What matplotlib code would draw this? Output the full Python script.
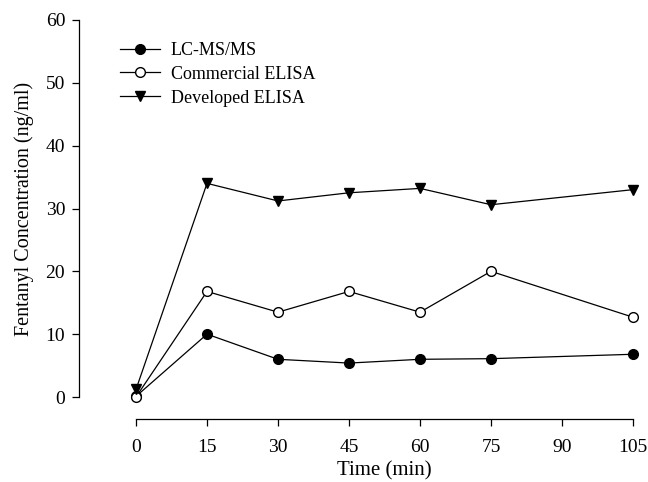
import matplotlib
matplotlib.use('Agg')
import matplotlib.pyplot as plt

plt.rcParams['font.family'] = ['Liberation Serif', 'DejaVu Serif']

time_min = [0, 15, 30, 45, 60, 75, 105]
lcms = [0.1, 10.0, 6.0, 5.4, 6.0, 6.1, 6.8]
commercial = [0.0, 16.8, 13.5, 16.8, 13.5, 20.0, 12.7]
developed = [1.2, 34.0, 31.2, 32.5, 33.2, 30.6, 33.0]

x_ticks = [0, 15, 30, 45, 60, 75, 90, 105]
y_ticks = [0, 10, 20, 30, 40, 50, 60]

fig = plt.figure(figsize=(6.48, 4.82), dpi=100)
ax = fig.add_axes([136 / 648, 1 - 397 / 482, 497 / 648, 377 / 482])

ax.plot(time_min, lcms, color='black', lw=0.9, marker='o', ms=7,
        mfc='black', mec='black', label='LC-MS/MS', clip_on=False)
ax.plot(time_min, commercial, color='black', lw=0.9, marker='o', ms=7,
        mfc='white', mec='black', label='Commercial ELISA', clip_on=False)
ax.plot(time_min, developed, color='black', lw=0.9, marker='v', ms=7,
        mfc='black', mec='black', label='Developed ELISA', clip_on=False)

ax.set_xlim(0, 105)
ax.set_ylim(0, 60)
ax.set_xticks(x_ticks)
ax.set_yticks(y_ticks)

ax.spines['top'].set_visible(False)
ax.spines['right'].set_visible(False)
ax.spines['left'].set_position(('outward', 41))
ax.spines['bottom'].set_position(('outward', 16))
for s in ('left', 'bottom'):
    ax.spines[s].set_linewidth(0.9)
ax.tick_params(direction='out', length=5, width=0.9, labelsize=14)
ax.tick_params(axis='x', pad=9)
ax.tick_params(axis='y', pad=5)

ax.set_xlabel('Time (min)', fontsize=15, labelpad=4)
ax.set_ylabel('Fentanyl Concentration (ng/ml)', fontsize=14.5, labelpad=8)

ax.legend(loc='upper left', bbox_to_anchor=(-0.065, 0.985), frameon=False,
          fontsize=13, handlelength=2.2, handletextpad=0.6, labelspacing=0.38)

fig.savefig('out.png', dpi=100)
